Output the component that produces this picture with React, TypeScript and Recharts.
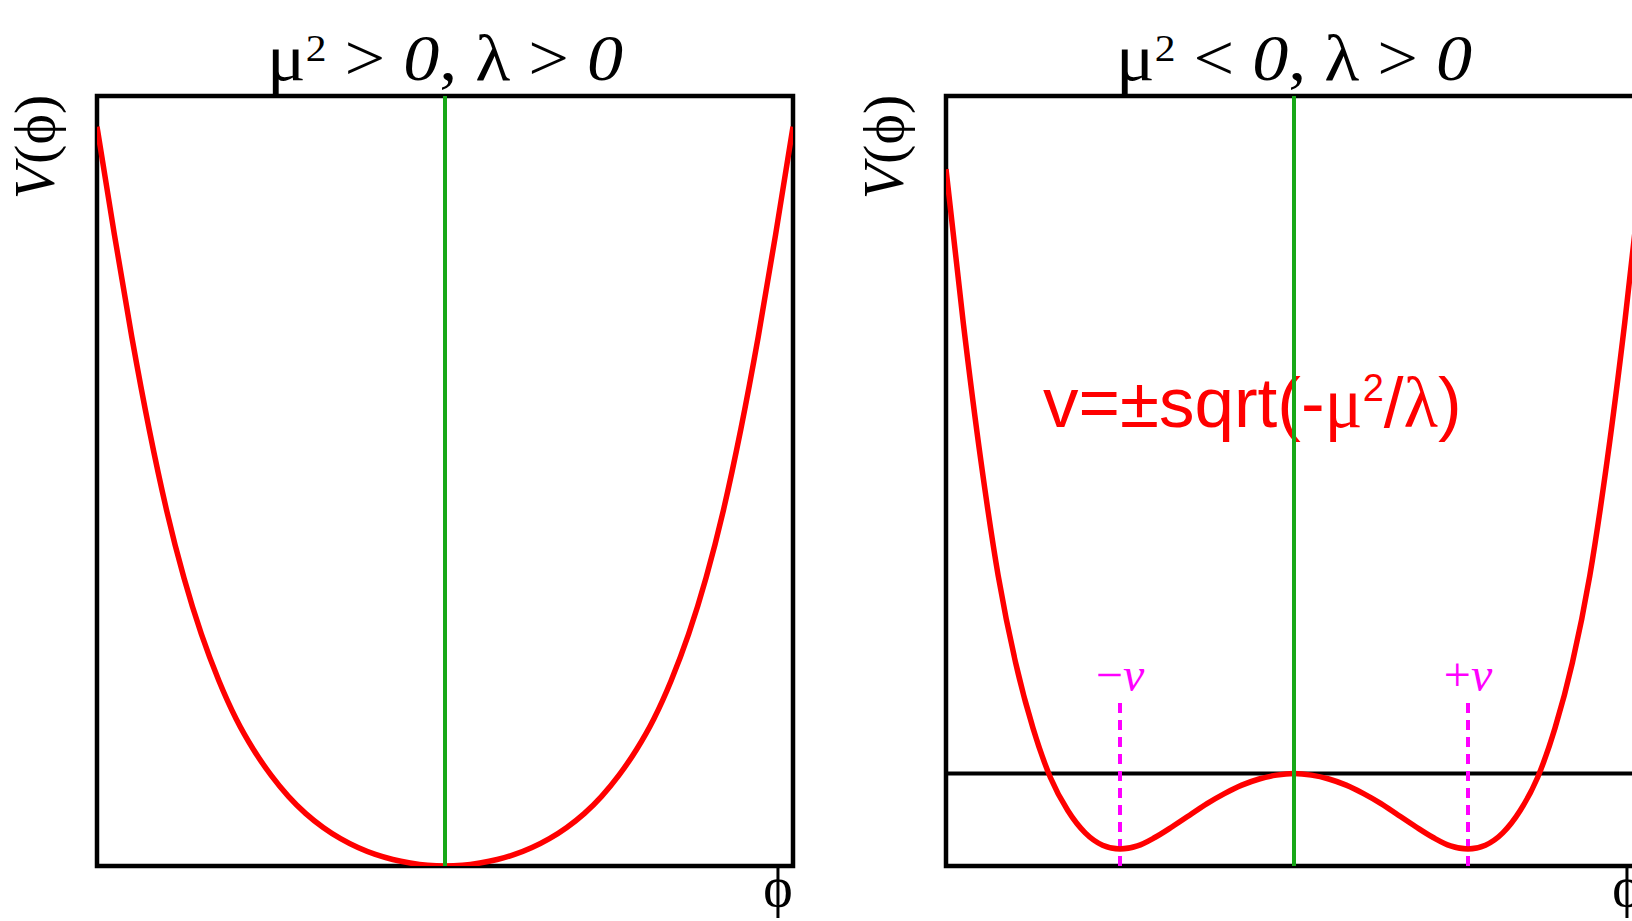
import { LineChart, Line, XAxis, YAxis, ReferenceLine, ReferenceArea } from "recharts"

// field values, shared by both panels
const phi = [
  -1, -0.95, -0.9, -0.85, -0.8, -0.75, -0.7, -0.65, -0.6, -0.55, -0.5,
  -0.45, -0.4, -0.35, -0.3, -0.25, -0.2, -0.15, -0.1, -0.05, 0,
  0.05, 0.1, 0.15, 0.2, 0.25, 0.3, 0.35, 0.4, 0.45, 0.5,
  0.55, 0.6, 0.65, 0.7, 0.75, 0.8, 0.85, 0.9, 0.95, 1,
]

// V(phi) for mu^2 > 0: one minimum at phi = 0
const vSymmetric = [
  0.96, 0.82, 0.687, 0.567, 0.462, 0.374, 0.301, 0.241, 0.191, 0.151, 0.118,
  0.0905, 0.068, 0.05, 0.0355, 0.024, 0.015, 0.0085, 0.004, 0.001, 0,
  0.001, 0.004, 0.0085, 0.015, 0.024, 0.0355, 0.05, 0.068, 0.0905, 0.118,
  0.151, 0.191, 0.241, 0.301, 0.374, 0.462, 0.567, 0.687, 0.82, 0.96,
]

// V(phi) for mu^2 < 0: local max at 0, minima at -v and +v
const vBroken = [
  0.785, 0.584, 0.407, 0.257, 0.144, 0.059, -0.005, -0.048, -0.077, -0.093, -0.098,
  -0.094, -0.083, -0.069, -0.054, -0.039, -0.026, -0.015, -0.007, -0.002, 0,
  -0.002, -0.007, -0.015, -0.026, -0.039, -0.054, -0.069, -0.083, -0.094, -0.098,
  -0.093, -0.077, -0.048, -0.005, 0.059, 0.144, 0.257, 0.407, 0.584, 0.785,
]

// vacuum expectation values and their labels
const vevs = [-0.5, 0.5]
const vevLabels = ["−", "+"]
const vevMarkTop = 0.095

const signs = [">", "<"]

const W = 816
const H = 921
const margin = { top: 96, right: 23, bottom: 55, left: 97 }
const serif = "'Liberation Serif', 'Times New Roman', serif"
const sans = "'Liberation Sans', Arial, sans-serif"

const vevLabel = (sign: string) => (props: any) => {
  const vb = props.viewBox
  return (
    <text x={vb.x + vb.width / 2} y={vb.y - 9} textAnchor="middle" fontFamily={serif} fontSize={48} fill="#ff00ff">
      {sign}
      <tspan fontStyle="italic">v</tspan>
    </text>
  )
}

function Panel({ values, yDomain, sign, broken }: { values: number[]; yDomain: [number, number]; sign: string; broken: boolean }) {
  const data = phi.map((p, i) => ({ phi: p, v: values[i] }))
  return (
    <LineChart width={W} height={H} data={data} margin={margin}>
      <XAxis dataKey="phi" type="number" domain={[-1, 1]} hide allowDataOverflow />
      <YAxis type="number" domain={yDomain} hide allowDataOverflow />
      <ReferenceArea x1={-1} x2={1} y1={yDomain[0]} y2={yDomain[1]} fill="none" stroke="#000" strokeWidth={4.5} />
      {broken && <ReferenceLine y={0} stroke="#000" strokeWidth={4} />}
      {broken &&
        vevs.map((x, i) => (
          <ReferenceLine
            key={x}
            segment={[{ x, y: yDomain[0] }, { x, y: vevMarkTop }]}
            stroke="#ff00ff"
            strokeWidth={4}
            strokeDasharray="10 7"
            label={vevLabel(vevLabels[i])}
          />
        ))}
      <Line type="monotone" dataKey="v" stroke="#ff0000" strokeWidth={5.5} dot={false} isAnimationActive={false} />
      <ReferenceLine x={0} stroke="#18a818" strokeWidth={4} />

      <text x={445} y={80} textAnchor="middle" fontFamily={serif} fontSize={66} textLength={356} lengthAdjust="spacingAndGlyphs">
        μ<tspan fontSize={38} dy={-19}>2</tspan>
        <tspan dy={19}>{` ${sign} `}</tspan>
        <tspan fontStyle="italic">0</tspan>
        {", λ > "}
        <tspan fontStyle="italic">0</tspan>
      </text>
      <text transform="rotate(-90 54 147)" x={54} y={147} textAnchor="middle" fontFamily={serif} fontSize={58}>
        <tspan fontStyle="italic">V</tspan>(ϕ)
      </text>
      <text x={778} y={906} textAnchor="middle" fontFamily={serif} fontSize={56}>
        ϕ
      </text>
      {broken && (
        <text x={194} y={427} fontFamily={sans} fontSize={71} fill="#ff0000">
          v=±sqrt(-<tspan fontFamily={serif}>μ</tspan>
          <tspan fontSize={38} dy={-26}>2</tspan>
          <tspan dy={26}>/</tspan>
          <tspan fontFamily={serif}>λ</tspan>)
        </text>
      )}
    </LineChart>
  )
}

export default function App() {
  return (
    <div style={{ position: "fixed", left: 0, top: 0, width: 1632, height: 921, overflow: "hidden", background: "#fff" }}>
      <div style={{ position: "absolute", left: 0, top: 0 }}>
        <Panel values={vSymmetric} yDomain={[0, 1]} sign={signs[0]} broken={false} />
      </div>
      <div style={{ position: "absolute", left: 849, top: 0 }}>
        <Panel values={vBroken} yDomain={[-0.12, 0.88]} sign={signs[1]} broken={true} />
      </div>
    </div>
  )
}
